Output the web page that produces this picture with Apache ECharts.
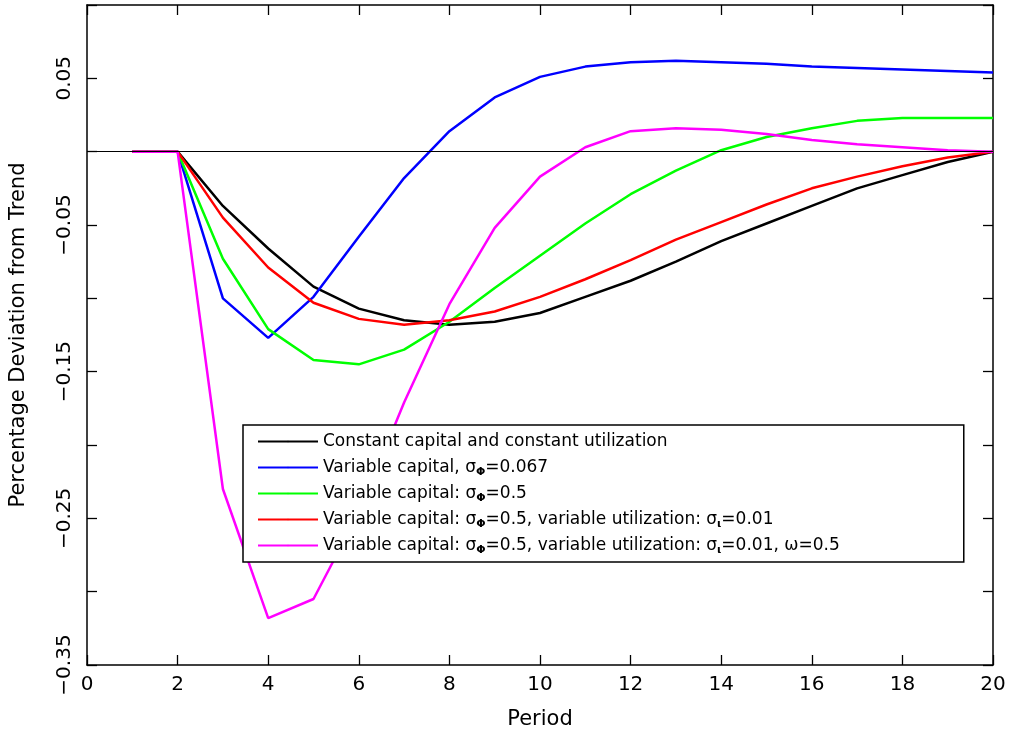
<!DOCTYPE html>
<html><head><meta charset="utf-8">
<script src="https://cdn.jsdelivr.net/npm/echarts@6/dist/echarts.min.js"></script>
<style>html,body{margin:0;background:#fff}#c{width:1012px;height:749px}</style>
</head><body><div id="c"></div>
<script>
var periods = [1,2,3,4,5,6,7,8,9,10,11,12,13,14,15,16,17,18,19,20];
var constCap = [0,0,-0.037,-0.066,-0.092,-0.107,-0.115,-0.118,-0.116,-0.110,-0.099,-0.088,-0.075,-0.061,-0.049,-0.037,-0.025,-0.016,-0.007,0];
var varCap067 = [0,0,-0.100,-0.127,-0.099,-0.058,-0.018,0.014,0.037,0.051,0.058,0.061,0.062,0.061,0.060,0.058,0.057,0.056,0.055,0.054];
var varCap05 = [0,0,-0.073,-0.121,-0.142,-0.145,-0.135,-0.116,-0.093,-0.071,-0.049,-0.029,-0.013,0.001,0.010,0.016,0.021,0.023,0.023,0.023];
var varUtil = [0,0,-0.045,-0.079,-0.103,-0.114,-0.118,-0.115,-0.109,-0.099,-0.087,-0.074,-0.060,-0.048,-0.036,-0.025,-0.017,-0.010,-0.004,0];
var varUtilW = [0,0,-0.230,-0.318,-0.305,-0.246,-0.171,-0.104,-0.052,-0.017,0.003,0.014,0.016,0.015,0.012,0.008,0.005,0.003,0.001,0];
var names = ['a','b','c','d','e'];
var legendText = {
    a: 'Constant capital and constant utilization',
    b: 'Variable capital, {g|σ}{s|Φ}=0.067',
    c: 'Variable capital: {g|σ}{s|Φ}=0.5',
    d: 'Variable capital: {g|σ}{s|Φ}=0.5, variable utilization: {g|σ}{s|ι}=0.01',
    e: 'Variable capital: {g|σ}{s|Φ}=0.5, variable utilization: {g|σ}{s|ι}=0.01, {g|ω}=0.5'
};
var colors = ['#000000','#0000ff','#00ff00','#ff0000','#ff00ff'];
var datas = [constCap, varCap067, varCap05, varUtil, varUtilW];

function pairs(arr){ return arr.map(function(v,i){ return [periods[i], v]; }); }

var font = 'DejaVu Sans';
var series = datas.map(function(d,i){
    return {name: names[i], type:'line', data: pairs(d), symbol:'none', z: 3,
        lineStyle:{color: colors[i], width: 2.5}, itemStyle:{color: colors[i]}};
});
series.push({type:'line', data:[], markLine:{silent:true, symbol:'none', label:{show:false},
    lineStyle:{color:'#000', width:1.2, type:'solid'}, data:[{yAxis:0}]}});

function axisCommon(){ return {axisLine:{onZero:false, lineStyle:{color:'#000', width:1.5}}, splitLine:{show:false},
    axisTick:{inside:true, length:10, lineStyle:{color:'#000', width:1.3}}}; }

var chart = echarts.init(document.getElementById('c'));
chart.setOption({
    animation:false,
    grid:{left:84, right:19, top:5, bottom:84},
    xAxis:[
        Object.assign({type:'value', min:0, max:20, interval:2, position:'bottom',
            name:'Period', nameLocation:'middle', nameGap:44,
            nameTextStyle:{fontFamily:font, fontSize:21, color:'#000'},
            axisLabel:{fontFamily:font, fontSize:20, color:'#000', margin:10}}, axisCommon()),
        Object.assign({type:'value', min:0, max:20, interval:2, position:'top', axisLabel:{show:false}}, axisCommon())
    ],
    yAxis:[
        Object.assign({type:'value', min:-0.35, max:0.1, interval:0.05, position:'left',
            name:'Percentage Deviation from Trend', nameLocation:'middle', nameGap:58,
            nameTextStyle:{fontFamily:font, fontSize:21, color:'#000'},
            axisLabel:{fontFamily:font, fontSize:20, color:'#000', rotate:90, margin:12,
                formatter:function(v){ var k=Math.round(v*100); return (Math.abs(k)%10===5) ? (k<0?'−':'')+Math.abs(v).toFixed(2) : ''; }}}, axisCommon()),
        Object.assign({type:'value', min:-0.35, max:0.1, interval:0.05, position:'right', axisLabel:{show:false}}, axisCommon())
    ],
    legend:{orient:'vertical', left:243, top:425, data:names,
        backgroundColor:'#fff', borderColor:'#000', borderWidth:1.5, padding:[6,124,6,14],
        itemGap:5, itemWidth:60, itemHeight:2, z:10,
        formatter:function(n){ return legendText[n]; },
        textStyle:{fontFamily:font, fontSize:17, color:'#000', lineHeight:21,
            rich:{g:{fontFamily:font, fontSize:17, color:'#000'},
                  s:{fontFamily:font, fontSize:11, color:'#000', fontWeight:'bold', verticalAlign:'bottom', padding:[7,0,0,0]}}}},
    series: series
});
</script></body></html>
